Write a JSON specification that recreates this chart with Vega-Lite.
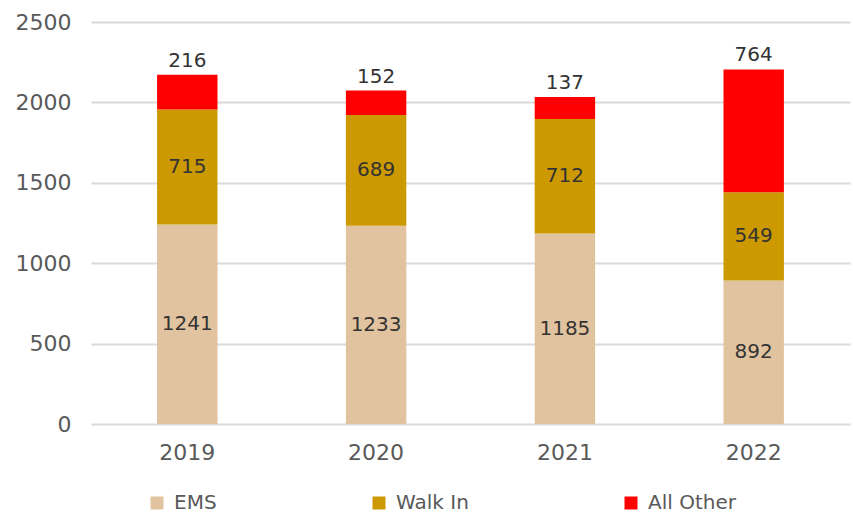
{
  "$schema": "https://vega.github.io/schema/vega-lite/v6.json",
  "autosize": {"type": "none"},
  "width": 759,
  "height": 402,
  "padding": {"left": 91, "top": 22, "right": 3, "bottom": 90},
  "background": "white",
  "config": {
    "view": {"stroke": null},
    "font": "DejaVu Sans"
  },
  "data": {
    "values": [
      {"year": "2019", "type": "EMS", "rank": 1, "value": 1241},
      {"year": "2019", "type": "Walk In", "rank": 2, "value": 715},
      {"year": "2019", "type": "All Other", "rank": 3, "value": 216},
      {"year": "2020", "type": "EMS", "rank": 1, "value": 1233},
      {"year": "2020", "type": "Walk In", "rank": 2, "value": 689},
      {"year": "2020", "type": "All Other", "rank": 3, "value": 152},
      {"year": "2021", "type": "EMS", "rank": 1, "value": 1185},
      {"year": "2021", "type": "Walk In", "rank": 2, "value": 712},
      {"year": "2021", "type": "All Other", "rank": 3, "value": 137},
      {"year": "2022", "type": "EMS", "rank": 1, "value": 892},
      {"year": "2022", "type": "Walk In", "rank": 2, "value": 549},
      {"year": "2022", "type": "All Other", "rank": 3, "value": 764}
    ]
  },
  "transform": [
    {"stack": "value", "groupby": ["year"], "sort": [{"field": "rank", "order": "ascending"}], "as": ["v0", "v1"]},
    {"calculate": "(datum.v0 + datum.v1) / 2", "as": "mid"}
  ],
  "encoding": {
    "x": {
      "field": "year", "type": "nominal", "title": null,
      "scale": {"paddingInner": 0.68, "paddingOuter": 0.35},
      "axis": {"labelAngle": 0, "labelFontSize": 22, "labelColor": "#595959", "labelPadding": 18, "domain": false, "ticks": false}
    }
  },
  "layer": [
    {
      "mark": {"type": "bar"},
      "encoding": {
        "y": {
          "field": "v0", "type": "quantitative", "title": null,
          "scale": {"domain": [0, 2500], "nice": false, "zero": true},
          "axis": {"values": [0, 500, 1000, 1500, 2000, 2500], "format": "d", "labelFontSize": 22, "labelColor": "#595959", "labelPadding": 20, "domain": false, "ticks": false, "gridColor": "#d9d9d9", "gridWidth": 2}
        },
        "y2": {"field": "v1"},
        "color": {
          "field": "type", "type": "nominal", "title": null,
          "scale": {"domain": ["EMS", "Walk In", "All Other"], "range": ["#E1C49F", "#CC9900", "#FF0000"]},
          "legend": {
            "orient": "none", "direction": "horizontal", "legendX": 56, "legendY": 471,
            "symbolType": "square", "symbolSize": 169, "symbolStrokeWidth": 0, "symbolOpacity": 1,
            "labelFontSize": 20, "labelColor": "#595959", "labelOffset": 7, "columnPadding": 152
          }
        }
      }
    },
    {
      "transform": [{"filter": "datum.type !== 'All Other'"}],
      "mark": {"type": "text", "fontSize": 20, "color": "#333333", "baseline": "middle"},
      "encoding": {
        "y": {"field": "mid", "type": "quantitative"},
        "text": {"field": "value", "type": "quantitative"}
      }
    },
    {
      "transform": [{"filter": "datum.type === 'All Other'"}],
      "mark": {"type": "text", "fontSize": 20, "color": "#333333", "baseline": "bottom", "dy": -4},
      "encoding": {
        "y": {"field": "v1", "type": "quantitative"},
        "text": {"field": "value", "type": "quantitative"}
      }
    }
  ]
}
